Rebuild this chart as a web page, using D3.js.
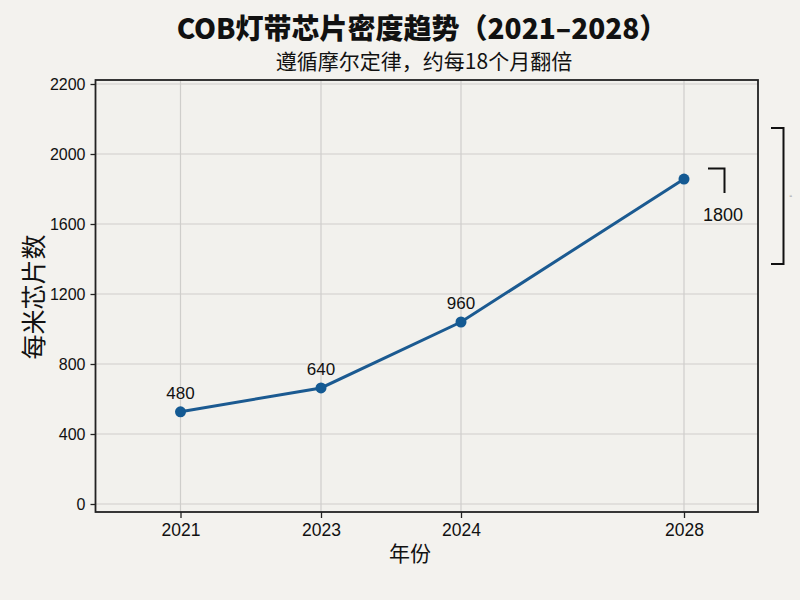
<!DOCTYPE html>
<html><head><meta charset="utf-8">
<script src="https://cdn.jsdelivr.net/npm/d3@7/dist/d3.min.js"></script>
<style>
html,body{margin:0;padding:0;background:#f3f2ee;}
svg{display:block;font-family:"Noto Sans CJK SC","Noto Sans",sans-serif;}
</style></head><body>
<svg id="c" width="800" height="600"></svg>
<script>
const years = ["2021","2023","2024","2028"];
const values = [527, 663, 1040, 1857];
const pointLabels = ["480","640","960","1800"];
const yTickValues = [0,400,800,1200,1600,2000,2400];
const yTickLabels = ["0","400","800","1200","1600","2000","2200"];

const svg = d3.select("#c");
const W = 800, H = 600;
const plot = {left:95.5, right:758, top:80, bottom:512};
const numFont = "'Liberation Sans','Open Sans',sans-serif";

svg.append("rect").attr("width",W).attr("height",H).attr("fill","#f3f2ee");
svg.append("rect").attr("x",plot.left).attr("y",plot.top)
  .attr("width",plot.right-plot.left).attr("height",plot.bottom-plot.top)
  .attr("fill","#f2f1ed");

const x = d3.scaleOrdinal().domain(years).range([180.5, 321, 461, 684]);
const y = d3.scaleLinear().domain([0,2400]).range([504,84]);

// grid
const g = svg.append("g");
g.selectAll(".hg").data(yTickValues).join("line")
  .attr("x1",plot.left).attr("x2",plot.right)
  .attr("y1",d=>y(d)).attr("y2",d=>y(d))
  .attr("stroke","#cfcecb").attr("stroke-width",1.2);
g.selectAll(".vg").data(years).join("line")
  .attr("x1",d=>x(d)).attr("x2",d=>x(d))
  .attr("y1",plot.top).attr("y2",plot.bottom)
  .attr("stroke","#cfcecb").attr("stroke-width",1.2);

// frame
svg.append("rect").attr("x",plot.left).attr("y",plot.top)
  .attr("width",plot.right-plot.left).attr("height",plot.bottom-plot.top)
  .attr("fill","none").attr("stroke","#222").attr("stroke-width",1.8);

// axes
const yAxis = d3.axisLeft(y).tickValues(yTickValues)
  .tickFormat((d,i)=>yTickLabels[i]).tickSize(5).tickPadding(5);
const ya = svg.append("g").attr("transform",`translate(${plot.left},0)`).call(yAxis);
ya.select(".domain").remove();
ya.attr("font-size",null).attr("font-family",null);
ya.selectAll("line").attr("stroke","#222").attr("stroke-width",1.3);
ya.selectAll("text").style("font-size","16px").attr("fill","#111")
  .style("font-family",numFont);

const xAxis = d3.axisBottom(x).tickSize(6).tickPadding(6);
const xa = svg.append("g").attr("transform",`translate(0,${plot.bottom})`).call(xAxis);
xa.select(".domain").remove();
xa.attr("font-size",null).attr("font-family",null);
xa.selectAll("line").attr("stroke","#222").attr("stroke-width",1.3);
xa.selectAll("text").style("font-size","17.5px").attr("fill","#111")
  .style("font-family",numFont);

// line
const data = years.map((yr,i)=>({yr, v:values[i], lab:pointLabels[i]}));
svg.append("path").datum(data)
  .attr("d", d3.line().x(d=>x(d.yr)).y(d=>y(d.v)))
  .attr("fill","none").attr("stroke","#1b5a91").attr("stroke-width",3);
svg.selectAll(".pt").data(data).join("circle")
  .attr("cx",d=>x(d.yr)).attr("cy",d=>y(d.v)).attr("r",5.5)
  .attr("fill","#145a93");

// point labels (first three above)
svg.selectAll(".pl").data(data.slice(0,3)).join("text")
  .attr("x",d=>x(d.yr)).attr("y",d=>y(d.v)-13)
  .attr("text-anchor","middle").style("font-size","17px").attr("fill","#111")
  .style("font-family",numFont)
  .text(d=>d.lab);
const last = data[3];
svg.append("text").attr("x",x(last.yr)+39).attr("y",y(last.v)+42)
  .attr("text-anchor","middle").style("font-size","18px").attr("fill","#111")
  .style("font-family",numFont)
  .text(last.lab);

// brackets
svg.append("path").attr("d","M708,168.5 H724.5 V193")
  .attr("fill","none").attr("stroke","#111").attr("stroke-width",2);
svg.append("path").attr("d","M771,128 H783.5 V264 H771")
  .attr("fill","none").attr("stroke","#111").attr("stroke-width",2);
svg.append("text").attr("x",789).attr("y",200).attr("text-anchor","middle")
  .attr("font-size",6).attr("fill","#999").text("\u201C");

// titles
svg.append("text").attr("x",422).attr("y",39).attr("text-anchor","middle")
  .style("font-size","28px").attr("font-weight",900).attr("fill","#111")
  .text("COB灯带芯片密度趋势（2021–2028）");
svg.append("text").attr("x",424).attr("y",69).attr("text-anchor","middle")
  .style("font-size","21px").attr("fill","#111")
  .text("遵循摩尔定律，约每18个月翻倍");

// axis titles
svg.append("text").attr("transform","translate(43,297) rotate(-90)")
  .attr("text-anchor","middle").style("font-size","25px").attr("fill","#111")
  .text("每米芯片数");
svg.append("text").attr("x",410).attr("y",561).attr("text-anchor","middle")
  .style("font-size","21px").attr("fill","#111").text("年份");
</script></body></html>
